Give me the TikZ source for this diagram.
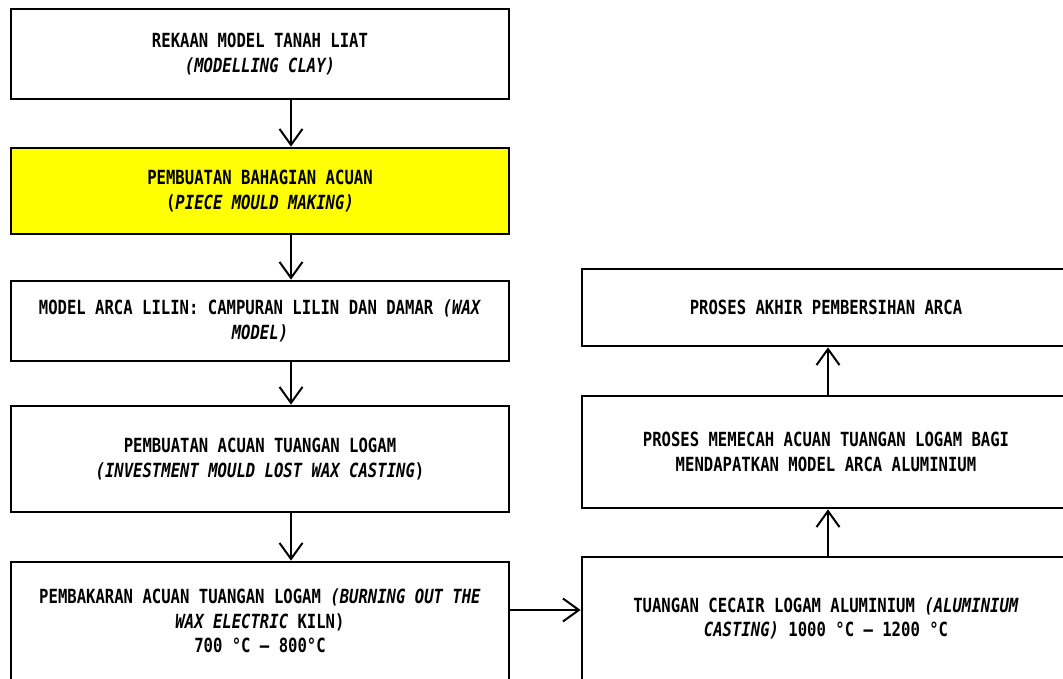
\documentclass[tikz,border=0pt]{standalone}
\usepackage{fontspec}
\setmainfont{DejaVu Sans Mono}[FakeStretch=0.80,
  BoldFont={DejaVu Sans Mono Bold},
  BoldItalicFont={DejaVu Sans Mono Bold Oblique}]
\usetikzlibrary{arrows.meta}
\definecolor{hl}{RGB}{255,255,0}
\tikzset{
  box/.style={draw, line width=2.7pt, align=center, inner sep=0pt,
    font=\fontsize{19.5}{24.5}\selectfont\bfseries},
  arr/.style={line width=2pt, -{Straight Barb[length=16pt,width=23pt,line width=2pt]}}
}
\begin{document}
\begin{tikzpicture}[x=1pt,y=-1pt]
\useasboundingbox (0,0) rectangle (1063,679);
% left column
\node[box, minimum width=498pt, minimum height=90pt] (b1) at (260,54)
  {REKAAN MODEL TANAH LIAT\\\textit{(MODELLING CLAY)}};
\node[box, fill=hl, minimum width=498pt, minimum height=86pt] (b2) at (260,191)
  {PEMBUATAN BAHAGIAN ACUAN\\(\textit{PIECE MOULD MAKING)}};
\node[box, minimum width=498pt, minimum height=80pt] (b3) at (260,321)
  {MODEL ARCA LILIN: CAMPURAN LILIN DAN DAMAR \textit{(WAX}\\\textit{MODEL)}};
\node[box, minimum width=498pt, minimum height=106pt] (b4) at (260,459)
  {PEMBUATAN ACUAN TUANGAN LOGAM\\\textit{(INVESTMENT MOULD LOST WAX CASTING})};
\node[box, minimum width=498pt, minimum height=118pt] (b5) at (260,621)
  {PEMBAKARAN ACUAN TUANGAN LOGAM \textit{(BURNING OUT THE}\\\textit{WAX ELECTRIC} KILN)\\700 °C – 800°C};
% right column
\node[box, minimum width=488pt, minimum height=77pt] (r1) at (826,307.5)
  {PROSES AKHIR PEMBERSIHAN ARCA};
\node[box, minimum width=488pt, minimum height=112pt] (r2) at (826,452)
  {PROSES MEMECAH ACUAN TUANGAN LOGAM BAGI\\MENDAPATKAN MODEL ARCA ALUMINIUM};
\node[box, minimum width=488pt, minimum height=123pt] (r3) at (826,618.5)
  {TUANGAN CECAIR LOGAM ALUMINIUM \textit{(ALUMINIUM}\\\textit{CASTING)} 1000 °C – 1200 °C};
% guide coordinates
\coordinate (lx) at (291,0);
\coordinate (rx) at (828,0);
\coordinate (hy) at (0,610);
% connectors
\draw[arr] (b1.south -| lx) -- (b2.north -| lx);
\draw[arr] (b2.south -| lx) -- (b3.north -| lx);
\draw[arr] (b3.south -| lx) -- (b4.north -| lx);
\draw[arr] (b4.south -| lx) -- (b5.north -| lx);
\draw[arr] (b5.east |- hy) -- (r3.west |- hy);
\draw[arr] (r3.north -| rx) -- (r2.south -| rx);
\draw[arr] (r2.north -| rx) -- (r1.south -| rx);
\end{tikzpicture}
\end{document}
